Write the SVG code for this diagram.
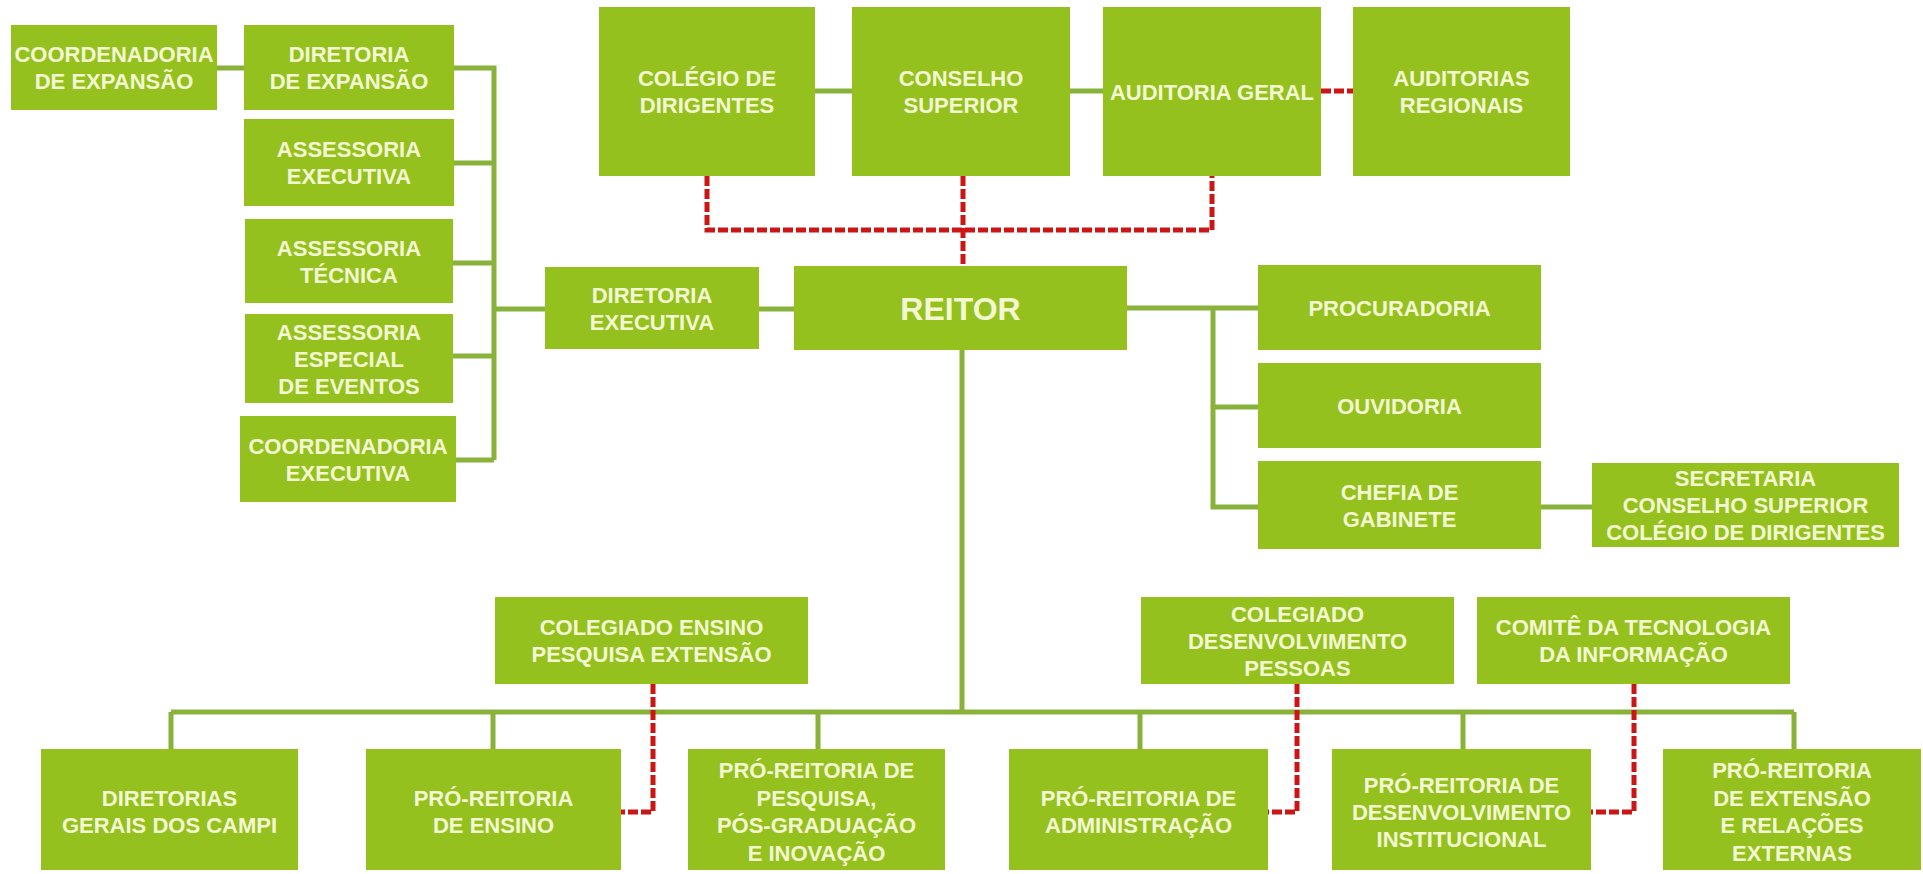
<svg xmlns="http://www.w3.org/2000/svg" width="1923" height="874" viewBox="0 0 1923 874">
<style>
.box{fill:#95C11F}
.t{font-family:"Liberation Sans",Arial,sans-serif;font-weight:bold;font-size:22px;fill:#F4F8D2;text-anchor:middle}
.big{font-size:32px}
.g{stroke:#88B23A;stroke-width:5;fill:none}
.r{stroke:#CC1616;stroke-width:5;fill:none;stroke-dasharray:10 3}
</style>
<rect width="1923" height="874" fill="#ffffff"/>
<g id="connectors">
<path class="g" d="M217 68H244M454 68H494V460M454 163H494M453 263H494M453 356H494M456 460H494M494 309H545M759 309H794"/>
<path class="g" d="M815 91H852M1070 91H1103"/>
<path class="g" d="M1127 308H1258M1213 308V507H1258M1213 407H1258M1541 507H1592"/>
<path class="g" d="M962 350V712M171 712H1794M171 712V749M493 712V749M818 712V749M1140 712V749M1463 712V749M1794 712V749"/>
<path class="r" d="M707 176V230H1212V176M963 176V266M1321 91H1353"/>
<path class="r" d="M653 684V812H621M1297 684V812H1268M1634 684V812H1591"/>
</g>
<g id="coord-expansao"><rect class="box" x="11" y="25" width="206" height="85"/><text class="t" x="114" y="62">COORDENADORIA</text><text class="t" x="114" y="89">DE EXPANSÃO</text></g>
<g id="dir-expansao"><rect class="box" x="244" y="25" width="210" height="85"/><text class="t" x="349" y="62">DIRETORIA</text><text class="t" x="349" y="89">DE EXPANSÃO</text></g>
<g id="ass-executiva"><rect class="box" x="244" y="119" width="210" height="87"/><text class="t" x="349" y="157">ASSESSORIA</text><text class="t" x="349" y="184">EXECUTIVA</text></g>
<g id="ass-tecnica"><rect class="box" x="245" y="219" width="208" height="84"/><text class="t" x="349" y="255.5">ASSESSORIA</text><text class="t" x="349" y="282.5">TÉCNICA</text></g>
<g id="ass-especial"><rect class="box" x="245" y="314" width="208" height="89"/><text class="t" x="349" y="339.5">ASSESSORIA</text><text class="t" x="349" y="366.5">ESPECIAL</text><text class="t" x="349" y="393.5">DE EVENTOS</text></g>
<g id="coord-executiva"><rect class="box" x="240" y="416" width="216" height="86"/><text class="t" x="348" y="453.5">COORDENADORIA</text><text class="t" x="348" y="480.5">EXECUTIVA</text></g>
<g id="dir-executiva"><rect class="box" x="545" y="267" width="214" height="82"/><text class="t" x="652" y="302.5">DIRETORIA</text><text class="t" x="652" y="329.5">EXECUTIVA</text></g>
<g id="colegio"><rect class="box" x="599" y="7" width="216" height="169"/><text class="t" x="707" y="86">COLÉGIO DE</text><text class="t" x="707" y="113">DIRIGENTES</text></g>
<g id="conselho"><rect class="box" x="852" y="7" width="218" height="169"/><text class="t" x="961" y="86">CONSELHO</text><text class="t" x="961" y="113">SUPERIOR</text></g>
<g id="auditoria-geral"><rect class="box" x="1103" y="7" width="218" height="169"/><text class="t" x="1212" y="99.5">AUDITORIA GERAL</text></g>
<g id="auditorias-regionais"><rect class="box" x="1353" y="7" width="217" height="169"/><text class="t" x="1461.5" y="86">AUDITORIAS</text><text class="t" x="1461.5" y="113">REGIONAIS</text></g>
<g id="reitor"><rect class="box" x="794" y="266" width="333" height="84"/><text class="t big" x="960.5" y="319.5">REITOR</text></g>
<g id="procuradoria"><rect class="box" x="1258" y="265" width="283" height="85"/><text class="t" x="1399.5" y="315.5">PROCURADORIA</text></g>
<g id="ouvidoria"><rect class="box" x="1258" y="363" width="283" height="85"/><text class="t" x="1399.5" y="413.5">OUVIDORIA</text></g>
<g id="chefia"><rect class="box" x="1258" y="461" width="283" height="88"/><text class="t" x="1399.5" y="499.5">CHEFIA DE</text><text class="t" x="1399.5" y="526.5">GABINETE</text></g>
<g id="secretaria"><rect class="box" x="1592" y="463" width="307" height="84"/><text class="t" x="1745.5" y="486">SECRETARIA</text><text class="t" x="1745.5" y="513">CONSELHO SUPERIOR</text><text class="t" x="1745.5" y="540">COLÉGIO DE DIRIGENTES</text></g>
<g id="col-ensino"><rect class="box" x="495" y="597" width="313" height="87"/><text class="t" x="651.5" y="635">COLEGIADO ENSINO</text><text class="t" x="651.5" y="662">PESQUISA EXTENSÃO</text></g>
<g id="col-desenv"><rect class="box" x="1141" y="597" width="313" height="87"/><text class="t" x="1297.5" y="621.5">COLEGIADO</text><text class="t" x="1297.5" y="648.5">DESENVOLVIMENTO</text><text class="t" x="1297.5" y="675.5">PESSOAS</text></g>
<g id="comite"><rect class="box" x="1477" y="597" width="313" height="87"/><text class="t" x="1633.5" y="635">COMITÊ DA TECNOLOGIA</text><text class="t" x="1633.5" y="662">DA INFORMAÇÃO</text></g>
<g id="dir-campi"><rect class="box" x="41" y="749" width="257" height="121"/><text class="t" x="169.5" y="806">DIRETORIAS</text><text class="t" x="169.5" y="833">GERAIS DOS CAMPI</text></g>
<g id="pr-ensino"><rect class="box" x="366" y="749" width="255" height="121"/><text class="t" x="493.5" y="806">PRÓ-REITORIA</text><text class="t" x="493.5" y="833">DE ENSINO</text></g>
<g id="pr-pesquisa"><rect class="box" x="688" y="749" width="257" height="121"/><text class="t" x="816.5" y="778">PRÓ-REITORIA DE</text><text class="t" x="816.5" y="805.5">PESQUISA,</text><text class="t" x="816.5" y="833">PÓS-GRADUAÇÃO</text><text class="t" x="816.5" y="860.5">E INOVAÇÃO</text></g>
<g id="pr-admin"><rect class="box" x="1009" y="749" width="259" height="121"/><text class="t" x="1138.5" y="806">PRÓ-REITORIA DE</text><text class="t" x="1138.5" y="833">ADMINISTRAÇÃO</text></g>
<g id="pr-desinst"><rect class="box" x="1332" y="749" width="259" height="121"/><text class="t" x="1461.5" y="792.5">PRÓ-REITORIA DE</text><text class="t" x="1461.5" y="819.5">DESENVOLVIMENTO</text><text class="t" x="1461.5" y="846.5">INSTITUCIONAL</text></g>
<g id="pr-extensao"><rect class="box" x="1663" y="749" width="258" height="121"/><text class="t" x="1792" y="778">PRÓ-REITORIA</text><text class="t" x="1792" y="805.5">DE EXTENSÃO</text><text class="t" x="1792" y="833">E RELAÇÕES</text><text class="t" x="1792" y="860.5">EXTERNAS</text></g>
</svg>
